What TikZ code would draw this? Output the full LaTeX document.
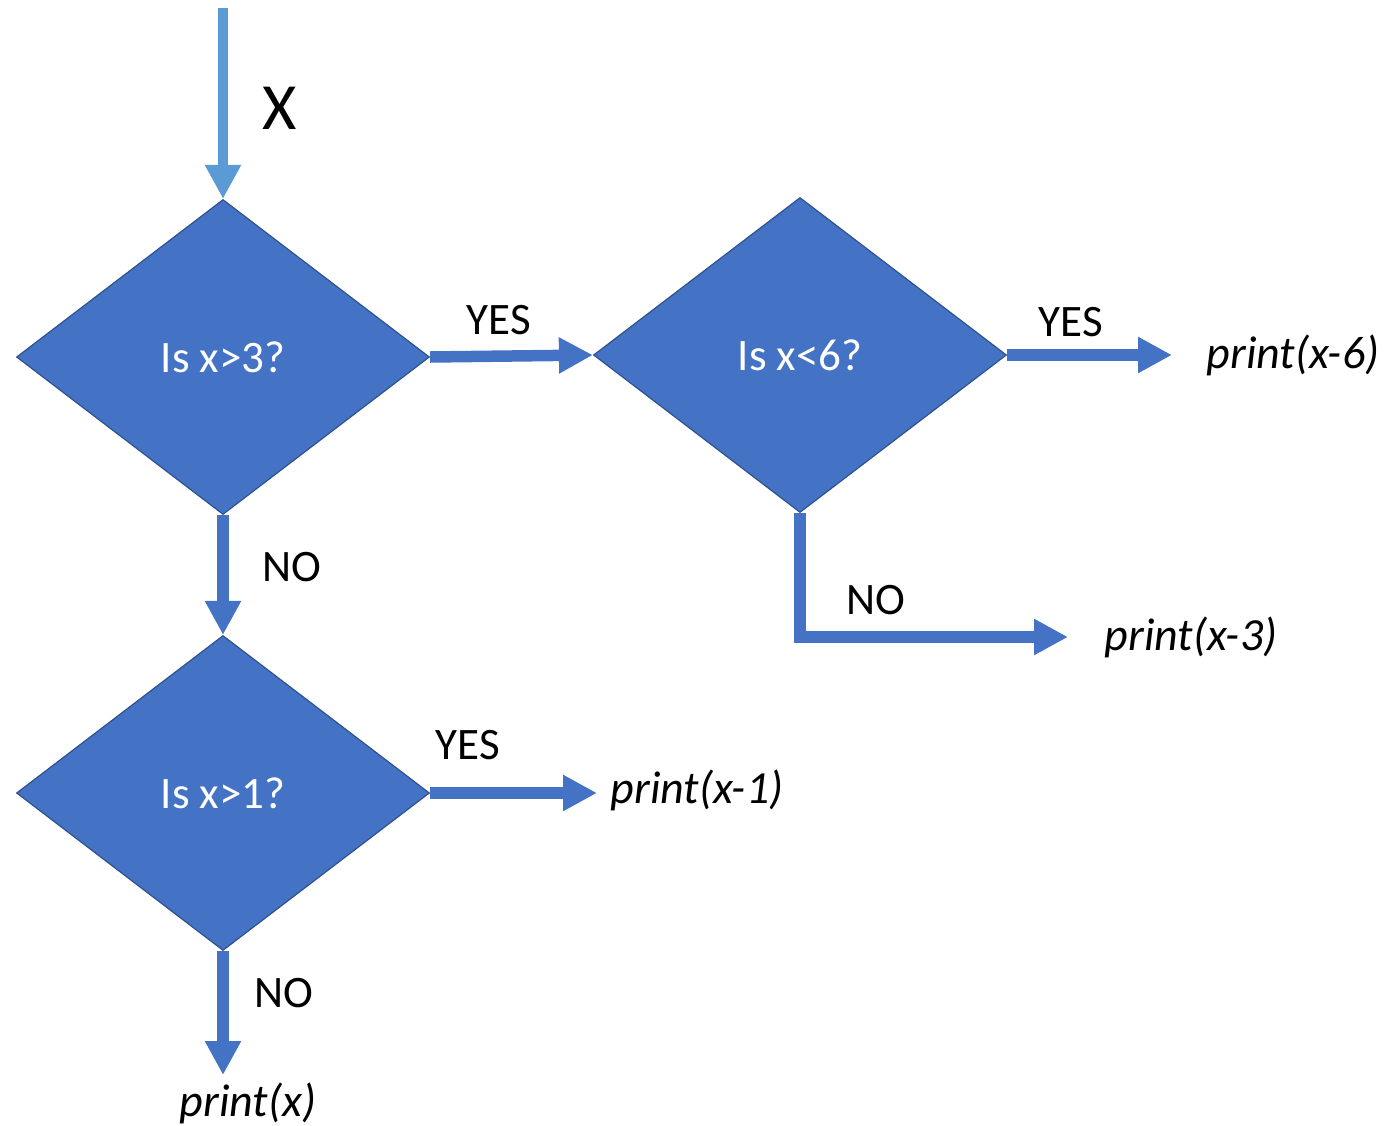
\documentclass[tikz,border=0pt]{standalone}
\usepackage{fontspec}
\setmainfont{Carlito}
\usetikzlibrary{shapes.geometric,arrows.meta}
\definecolor{boxblue}{HTML}{4472C4}
\definecolor{edgeblue}{HTML}{2F528F}
\definecolor{inblue}{HTML}{5B9BD5}
\begin{document}
\begin{tikzpicture}[x=1pt,y=-1pt,
  decision/.style={shape=diamond, fill=boxblue, draw=edgeblue, line width=1.2pt,
    minimum width=413pt, minimum height=315pt, inner sep=0pt,
    text=white, font=\fontsize{45}{50}\selectfont},
  flow/.style={draw=boxblue, line width=11.5pt,
    -{Triangle[length=34pt,width=34pt]}},
  lbl/.style={font=\fontsize{45}{50}\selectfont, inner sep=0pt},
  result/.style={font=\fontsize{46}{50}\selectfont\itshape, inner sep=0pt}]
\useasboundingbox (0,0) rectangle (1392,1125);

% decisions
\node[decision] (d1) at (223,357) {Is x>3?};
\node[decision] (d2) at (800,355) {Is x<6?};
\node[decision] (d3) at (223,793) {Is x>1?};

% input
\coordinate (in) at (223,8);
\draw[draw=inblue, line width=10pt, -{Triangle[length=34pt,width=34pt]}]
  (in) -- (d1.north);
\node[lbl, font=\fontsize{66}{70}\selectfont] (xlab) at (280,108) {X};

% outputs
\node[result] (p6) at (1293,355) {print(x-6)};
\node[result] (p3) at (1191,637) {print(x-3)};
\node[result] (p1) at (697,790) {print(x-1)};
\node[result] (p0) at (248,1103) {print(x)};

\coordinate (e6) at (1172,355);
\coordinate (e3) at (1068,637);
\coordinate (e1) at (597,793);
\coordinate (e0) at (223,1075);

% connectors
\draw[flow] (d1.east) -- (d2.west);
\draw[flow] (d2.east) -- (e6);
\draw[flow] (d2.south) -- (d2.south |- e3) -- (e3);
\draw[flow] (d1.south) -- (d3.north);
\draw[flow] (d3.east) -- (e1);
\draw[flow] (d3.south) -- (e0);

% branch labels
\node[lbl] (y1) at (499,320) {YES};
\node[lbl] (y2) at (1071,322) {YES};
\node[lbl] (n2) at (876,600) {NO};
\node[lbl] (n1) at (292,567) {NO};
\node[lbl] (y3) at (468,745) {YES};
\node[lbl] (n3) at (284,993) {NO};
\end{tikzpicture}
\end{document}
